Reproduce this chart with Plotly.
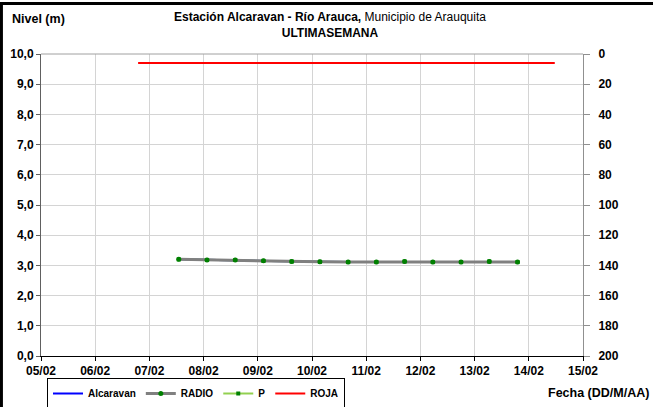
import plotly.graph_objects as go

# level series (m)
fechas = ["2024-02-07 13:00", "2024-02-08 01:30", "2024-02-08 14:00", "2024-02-09 02:30",
          "2024-02-09 15:00", "2024-02-10 03:30", "2024-02-10 16:00", "2024-02-11 04:30",
          "2024-02-11 17:00", "2024-02-12 05:30", "2024-02-12 18:00", "2024-02-13 06:30",
          "2024-02-13 19:00"]
nivel_radio = [3.20, 3.18, 3.18, 3.15, 3.13, 3.12, 3.11, 3.11, 3.13, 3.11, 3.11, 3.13, 3.11]
nivel_alcaravan = nivel_radio
nivel_p = nivel_radio

# alert threshold
fechas_roja = ["2024-02-06 19:00", "2024-02-14 11:30"]
nivel_roja = [9.7, 9.7]

font = "Liberation Sans, Arial, sans-serif"

fig = go.Figure()
fig.add_trace(go.Scatter(x=fechas, y=nivel_alcaravan, name="Alcaravan", mode="lines",
                         legendrank=1, line=dict(color="#0000ff", width=2)))
fig.add_trace(go.Scatter(x=fechas, y=nivel_p, name="P", mode="lines+markers",
                         legendrank=3, line=dict(color="#92d050", width=2),
                         marker=dict(color="#008000", symbol="square", size=4)))
fig.add_trace(go.Scatter(x=fechas, y=nivel_radio, name="RADIO", mode="lines+markers",
                         legendrank=2, line=dict(color="#808080", width=3),
                         marker=dict(color="#008000", size=5)))
fig.add_trace(go.Scatter(x=fechas_roja, y=nivel_roja, name="ROJA", mode="lines",
                         legendrank=4, line=dict(color="#ff0000", width=2)))
# dummy for the secondary (precipitation) axis
fig.add_trace(go.Scatter(x=[fechas[0]], y=[None], yaxis="y2", showlegend=False,
                         hoverinfo="skip"))

fig.update_layout(
    width=653, height=407,
    margin=dict(l=41, r=70, t=54, b=51),
    paper_bgcolor="white", plot_bgcolor="white",
    separators=",.",
    font=dict(family=font, size=11, color="black"),
    showlegend=True,
    legend=dict(orientation="h", x=47 / 653, y=1 - 378 / 407, xref="container",
                yref="container", xanchor="left", yanchor="top",
                bordercolor="black", borderwidth=1, bgcolor="rgba(0,0,0,0)",
                font=dict(size=10, family=font, weight="bold"),
                itemwidth=30, tracegroupgap=0),
    xaxis=dict(type="date", range=["2024-02-05", "2024-02-15"], dtick=86400000,
               tickformat="%d/%m", showgrid=True, gridcolor="#d4d4d4", gridwidth=1,
               showline=True, linecolor="black", linewidth=1, mirror=False,
               ticks="outside", ticklen=4, tickcolor="black", automargin=False,
               tickfont=dict(size=12, family=font, weight="bold")),
    yaxis=dict(range=[0, 10], dtick=1, tickformat=".1f", showgrid=True,
               gridcolor="#d4d4d4", gridwidth=1, showline=True, linecolor="#606060",
               linewidth=1, ticks="outside", ticklen=4, tickcolor="#606060",
               zeroline=False, automargin=False,
               tickfont=dict(size=12, family=font, weight="bold")),
    yaxis2=dict(overlaying="y", side="right", range=[200, 0], dtick=20, showgrid=False,
                showline=True, linecolor="#909090", linewidth=1, ticks="outside",
                ticklen=6, tickcolor="#909090", zeroline=False, automargin=False,
                ticklabelstandoff=6,
                tickfont=dict(size=12, family=font, weight="bold")),
)

# top border of plot area
fig.add_shape(type="line", xref="paper", yref="paper", x0=0, x1=1, y0=1, y1=1,
              line=dict(color="#a0a0a0", width=1))
# outer frame (top and left)
fig.add_shape(type="line", xref="paper", yref="paper", x0=-0.08, x1=1.2, y0=1.167, y1=1.167,
              line=dict(color="black", width=3))
fig.add_shape(type="line", xref="paper", yref="paper", x0=-0.073, x1=-0.073, y0=-0.2, y1=1.167,
              line=dict(color="black", width=3))

fig.add_annotation(xref="paper", yref="paper", x=0.533, y=1.152, yanchor="top",
                   showarrow=False, align="center",
                   text="<b>Estación Alcaravan - Río Arauca,</b> Municipio de Arauquita<br><b>ULTIMASEMANA</b>",
                   font=dict(size=12, family=font))
fig.add_annotation(xref="paper", yref="paper", x=-0.058, y=1.117, xanchor="left",
                   yanchor="middle", showarrow=False, text="<b>Nivel (m)</b>",
                   font=dict(size=12.5, family=font))
fig.add_annotation(xref="paper", yref="paper", x=1.125, y=-0.123, xanchor="right",
                   yanchor="middle", showarrow=False, text="<b>Fecha (DD/M/AA)</b>",
                   font=dict(size=12.5, family=font))

fig.write_html("out.html", config={"displayModeBar": False},
               post_script="document.body.style.margin='0';")
